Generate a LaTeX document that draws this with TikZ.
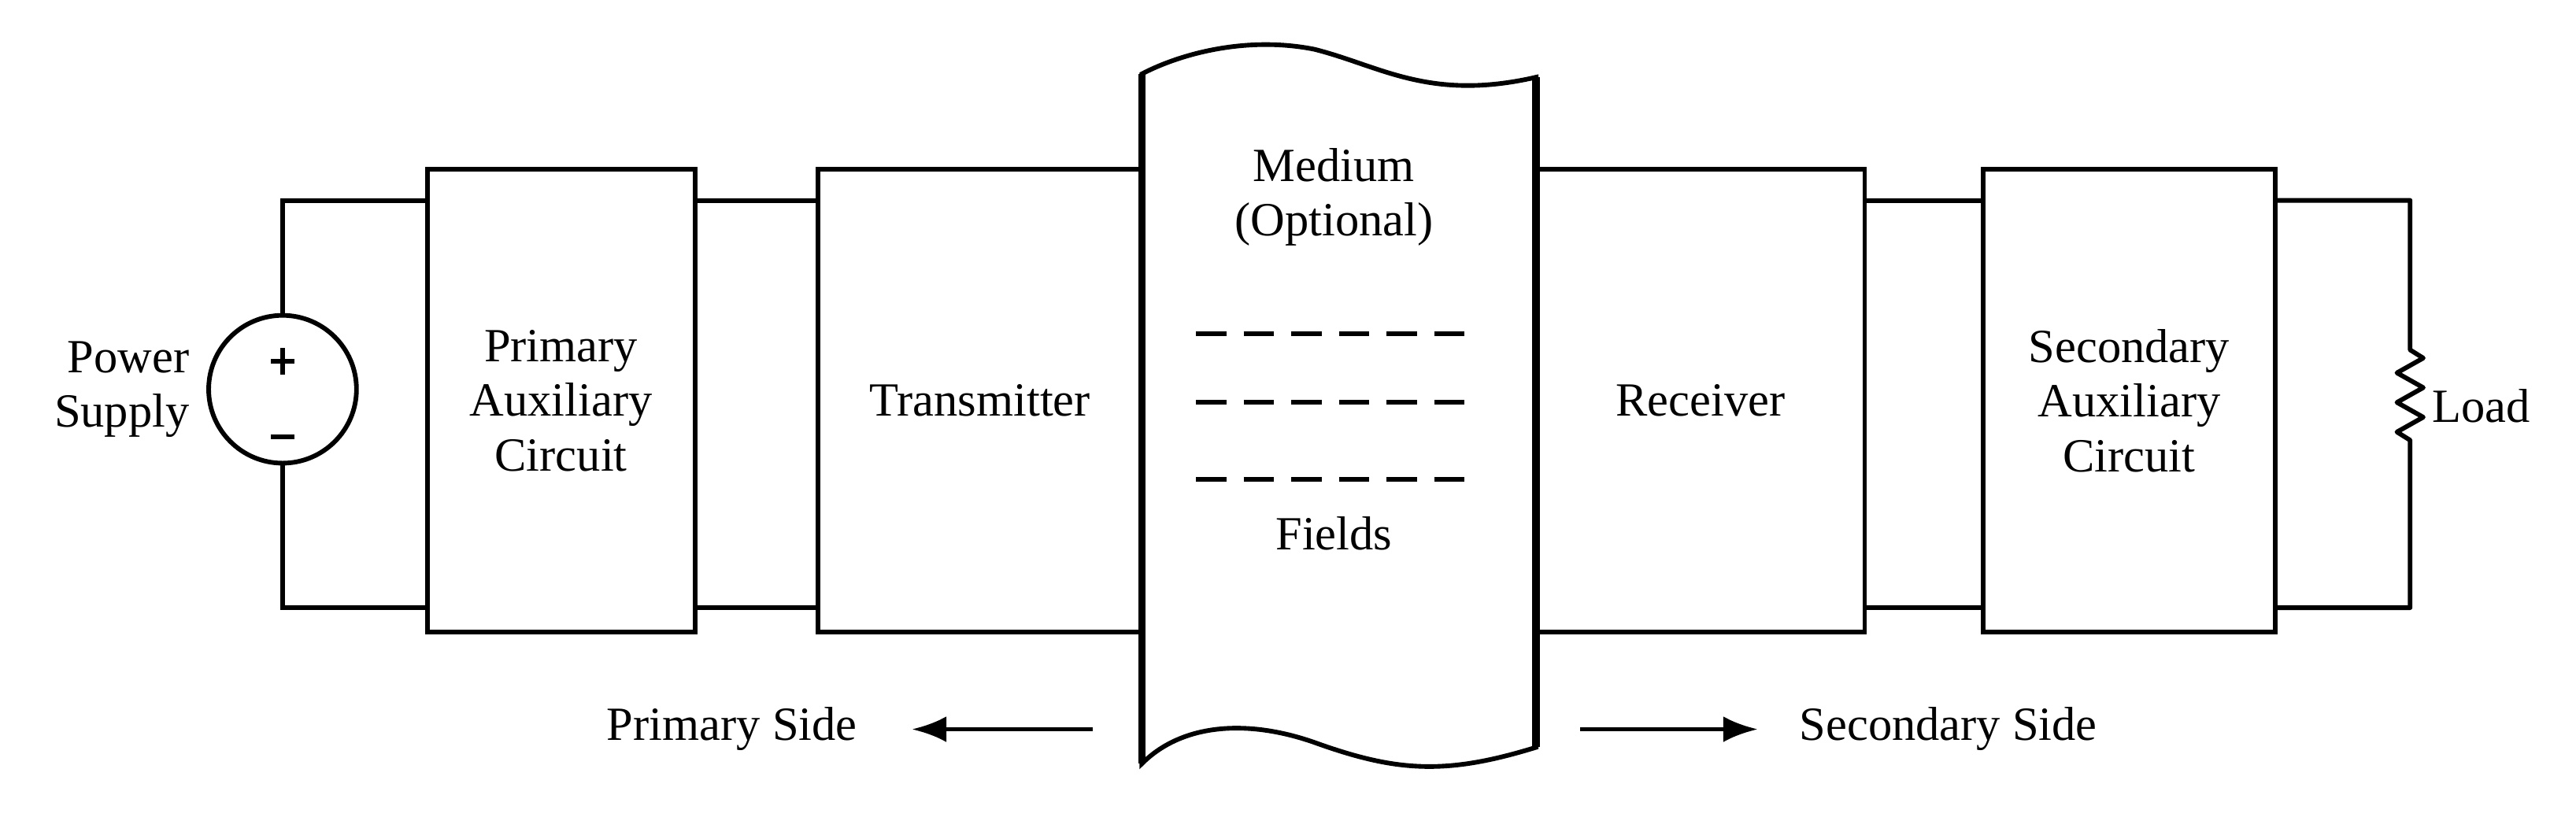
\documentclass[tikz,border=0pt]{standalone}
\usepackage{fontspec}
\setmainfont{Liberation Serif}
\usetikzlibrary{arrows.meta,positioning}
\tikzset{
  blk/.style={draw, line width=1.6pt, minimum height=5.64cm, align=center, inner sep=0pt},
  wire/.style={line width=1.6pt},
  lbl/.style={align=center, inner sep=0pt}
}
\begin{document}
\begin{tikzpicture}[x=0.02cm, y=-0.02cm, font=\fontsize{16.5}{19}\selectfont, >={Latex[length=12pt,width=9pt]}]
\useasboundingbox (0,0) rectangle (1568,497);
\node[blk, minimum width=3.26cm] (pac) at (341.5,244) {Primary\\Auxiliary\\Circuit};
\node[blk, minimum width=3.94cm] (tx) at (596.5,244) {Transmitter};
\node[blk, minimum width=4.0cm] (rx) at (1035,244) {Receiver};
\node[blk, minimum width=3.56cm] (sac) at (1296,244) {Secondary\\Auxiliary\\Circuit};
% source
\node[draw, circle, line width=1.6pt, minimum size=1.8cm] (src) at (172,237) {};
\draw[wire] (172,212)--(172,228) (165,220)--(179,220);
\draw[wire] (165,266)--(179,266);
\node[lbl, left=0.2cm of src, align=right] (ps) {Power\\Supply};
\coordinate (t1) at (172,122); \coordinate (b1) at (172,370);
\draw[wire] (src.north)--(t1)--(t1-|pac.west);
\draw[wire] (src.south)--(b1)--(b1-|pac.west);
\draw[wire] (pac.east|-t1)--(tx.west|-t1) (pac.east|-b1)--(tx.west|-b1);
\draw[wire] (rx.east|-t1)--(sac.west|-t1) (rx.east|-b1)--(sac.west|-b1);
% load
\coordinate (t2) at (1467,122); \coordinate (b2) at (1467,370);
\draw[wire, line join=round] (sac.east|-t2)--(t2)--(1467,213)--(1475,218)--(1459,227)--(1475,236)--(1459,245)--(1475,254)--(1459,263)--(1467,268)--(b2)--(sac.east|-b2);
\node[lbl, anchor=west] (load) at (1480,247) {Load};
% medium
\draw[line width=1.6pt, fill=white] (695,45) .. controls (720,32) and (760,22) .. (800,30)
  .. controls (840,40) and (870,62) .. (935,47) -- (935,455)
  .. controls (880,472) and (850,470) .. (800,452)
  .. controls (760,438) and (720,440) .. (695,465) -- cycle;
\draw[line width=2.6pt] (695,45)--(695,465) (935,47)--(935,455);
\draw[wire, dash pattern=on 10.5pt off 6pt] (728,203)--(892,203) (728,245)--(892,245) (728,292)--(892,292);
\node[lbl] (med) at (812,120) {Medium\\(Optional)};
\node[lbl] (fld) at (812,325) {Fields};
% sides
\node[lbl, anchor=east] (pside) at (522,444) {Primary Side};
\node[lbl, anchor=west] (sside) at (1095,444) {Secondary Side};
\coordinate (pa) at (665,444); \coordinate (sa) at (962,444);
\draw[wire, ->] (pa)--([xshift=0.66cm]pside.east);
\draw[wire, ->] (sa)--([xshift=-0.5cm]sside.west);
\end{tikzpicture}
\end{document}
